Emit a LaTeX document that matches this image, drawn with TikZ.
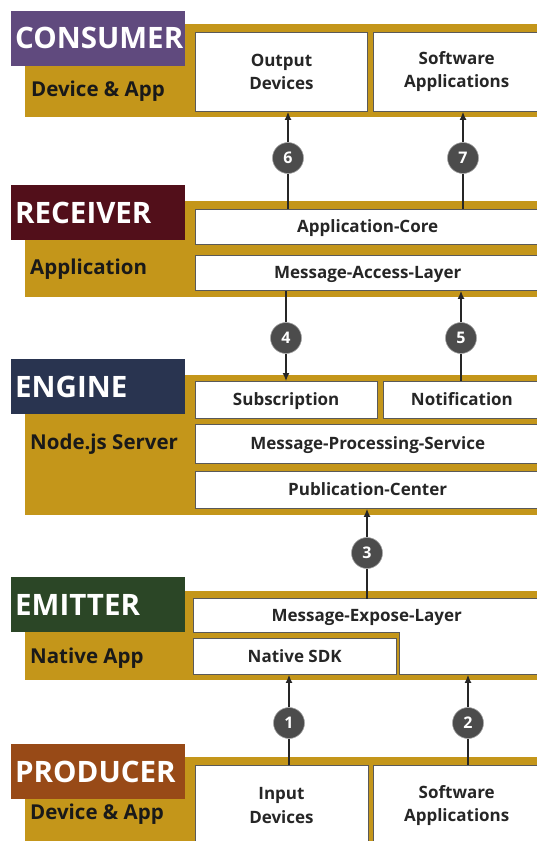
\documentclass[tikz,border=0pt]{standalone}
\usepackage{fontspec}
\setmainfont{Open Sans}
\usetikzlibrary{arrows.meta}
\definecolor{gold}{RGB}{196,150,26}
\definecolor{consumer}{RGB}{96,74,126}
\definecolor{receiver}{RGB}{82,15,26}
\definecolor{engine}{RGB}{41,52,80}
\definecolor{emitter}{RGB}{43,70,38}
\definecolor{producer}{RGB}{152,74,23}
\tikzset{
  title/.style={anchor=north west, inner xsep=4pt, text width=166pt, align=left,
    minimum height=55, text=white, font=\bfseries\fontsize{29.5}{31}\selectfont},
  side/.style={anchor=west, inner sep=0, text=black!90, font=\bfseries\fontsize{20.5}{24}\selectfont},
  lbl/.style={anchor=north west, inner sep=0, align=center, text=black!85,
    font=\bfseries\fontsize{17}{23.5}\selectfont},
  box/.style={lbl, draw=black!65, line width=0.9pt, fill=white},
  one/.style={text height=12pt, text depth=0pt},
  num/.style={circle, fill=black!70, draw=black!35, line width=0.6pt, minimum size=31,
    inner sep=0, text=white, font=\bfseries\fontsize{16}{16}\selectfont},
  wire/.style={line width=1.3pt, black!85},
  flow/.style={wire, -{Latex[length=8pt,width=7pt]}}
}
\begin{document}
\begin{tikzpicture}[x=1pt, y=-1pt]
  \useasboundingbox (0,0) rectangle (537,841);
  \clip (0,0) rectangle (537,841);
  \foreach \t/\b in {23.5/117, 200.5/297, 374.5/515, 590.5/680, 756.5/850}
    \fill[gold] (24.5,\t) rectangle (545,\b);

  \node[title, fill=consumer] (consumer) at (11,10.5) {CONSUMER};
  \node[title, fill=receiver] (receiver) at (11,185) {RECEIVER};
  \node[title, fill=engine] (engine) at (11,359) {ENGINE};
  \node[title, fill=emitter] (emitter) at (11,577) {EMITTER};
  \node[title, fill=producer] (producer) at (11,744) {PRODUCER};

  \node[side] (dev-c) at (31,91) {Device \& App};
  \node[side] (app) at (30,269) {Application};
  \node[side] (srv) at (30,444) {Node.js Server};
  \node[side] (nat) at (30,658) {Native App};
  \node[side] (dev-p) at (30,814) {Device \& App};

  \node[box, minimum width=172, minimum height=79.5] (out) at (195,31.5) {Output\\Devices};
  \node[box, minimum width=167.5, minimum height=79.5] (swc) at (372.5,31.5) {Software\\Applications};
  \node[box, one, minimum width=345.5, minimum height=35.5] (core) at (194.5,208.5) {Application-Core};
  \node[box, one, minimum width=345.5, minimum height=35.5] (mal) at (194.5,254.5) {Message-Access-Layer};
  \node[box, one, minimum width=182.5, minimum height=36.5] (sub) at (194.5,381) {Subscription};
  \node[box, one, minimum width=157, minimum height=36.5] (note) at (383,381) {Notification};
  \node[box, one, minimum width=345.5, minimum height=39] (mps) at (194.5,424) {Message-Processing-Service};
  \node[box, one, minimum width=345.5, minimum height=37] (pub) at (194.5,471) {Publication-Center};
  \draw[draw=black!65, line width=0.9pt, fill=white]
    (193,598.5) -- (545,598.5) -- (545,674) -- (399,674) -- (399,632) -- (193,632) -- cycle;
  \node[lbl, one, minimum width=347, minimum height=33.5] (mel) at (193,598.5) {Message-Expose-Layer};
  \node[box, one, minimum width=202.5, minimum height=36] (sdk) at (193,638) {Native SDK};
  \node[box, minimum width=173, minimum height=80] (inp) at (194.5,765) {Input\\Devices};
  \node[box, minimum width=167.5, minimum height=80] (swp) at (372.5,765) {Software\\Applications};

  \node[num] (c1) at (289,723) {1};
  \node[num] (c2) at (468,723) {2};
  \node[num] (c3) at (367,553) {3};
  \node[num] (c4) at (286,338) {4};
  \node[num] (c5) at (461,338) {5};
  \node[num] (c6) at (288,158) {6};
  \node[num] (c7) at (463,158) {7};

  \draw[flow] (c1) -- (c1 |- sdk.south);
  \draw[wire] (c1) -- (c1 |- inp.north);
  \draw[flow] (c2) -- (c2 |- sdk.south);
  \draw[wire] (c2) -- (c2 |- swp.north);
  \draw[flow] (c3) -- (c3 |- pub.south);
  \draw[wire] (c3) -- (c3 |- mel.north);
  \draw[flow] (c4) -- (c4 |- sub.north);
  \draw[wire] (c4) -- (c4 |- mal.south);
  \draw[flow] (c5) -- (c5 |- mal.south);
  \draw[wire] (c5) -- (c5 |- note.north);
  \draw[flow] (c6) -- (c6 |- out.south);
  \draw[wire] (c6) -- (c6 |- core.north);
  \draw[flow] (c7) -- (c7 |- swc.south);
  \draw[wire] (c7) -- (c7 |- core.north);
\end{tikzpicture}
\end{document}
